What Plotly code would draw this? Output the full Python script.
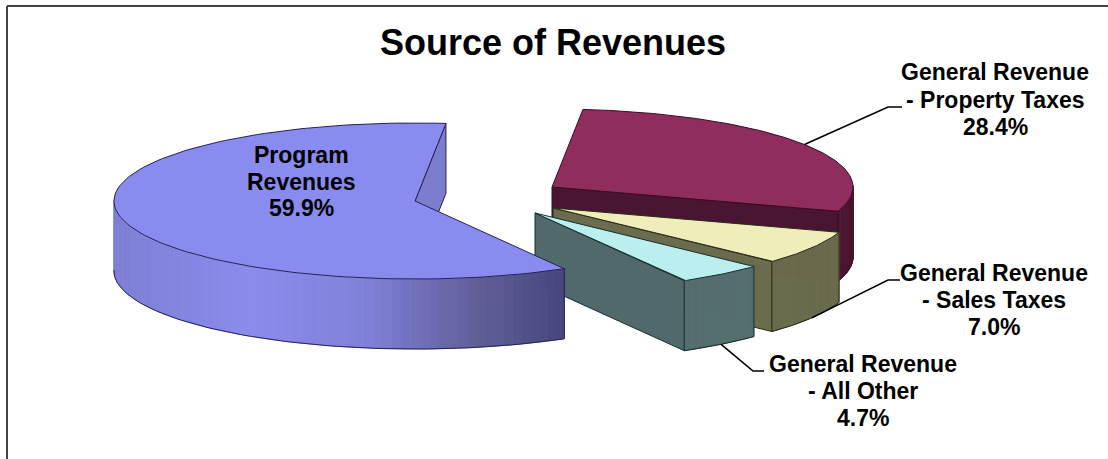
import numpy as np
import plotly.graph_objects as go

# Revenue shares in percent, clockwise from the top of the pie
categories = ["Program Revenues", "General Revenue - Property Taxes",
              "General Revenue - Sales Taxes", "General Revenue - All Other"]
revenue_shares = [59.9, 28.4, 7.0, 4.7]
label_lines = [["Program", "Revenues", "59.9%"],
               ["General Revenue", "- Property Taxes", "28.4%"],
               ["General Revenue", "- Sales Taxes", "7.0%"],
               ["General Revenue", "- All Other", "4.7%"]]
chart_title = "Source of Revenues"

WIDTH, HEIGHT = 1108, 459
FONT = "Liberation Sans, Arial, sans-serif"

# Pie projection: ellipse radii, wall depth and the angle of the first slice
RX, RY, DEPTH = 301.0, 78.0, 70.0
START_DEG = 84.1

# Pixel position of each slice's apex once exploded
apexes = [(415, 201), (552, 187), (553, 208), (535, 213)]

top_colors = ["#8a8bee", "#8e2d5e", "#eeeebb", "#bbeeee"]
edge_colors = ["#23235a", "#3a0c22", "#2c2c18", "#16302f"]
# Wall colours: straight cut face and curved rim
cut_colors = ["#7c7dcc", "#4a1530", "#6b6b4e", "#51696a"]
rim_stops = [
    [(0.0, "#7d7ed4"), (0.3, "#8a8bec"), (0.55, "#8081da"),
     (0.8, "#5f6099"), (1.0, "#46467c")],
    [(0.0, "#4a1530"), (1.0, "#4a1530")],
    [(0.0, "#6b6b4e"), (1.0, "#6b6b4e")],
    [(0.0, "#55706f"), (1.0, "#55706f")],
]
# Drawing order, back to front
draw_order = [1, 2, 3, 0]
# Elbow and end of each leader line
leaders = {1: [(888, 107), (902, 107)],
           2: [(888, 280), (900, 280)],
           3: [(753, 371), (764, 371)]}
# Centre x and the mid y of each line for every label block
label_anchor = [(301, [155, 182, 208]), (995, [72, 100, 127]),
                (994, [273, 300, 327]), (863, [364, 391, 418])]


def hex_mix(stops, t):
    """Piecewise-linear colour lookup along a list of (position, hex) stops."""
    for (p0, c0), (p1, c1) in zip(stops, stops[1:]):
        if t <= p1:
            f = 0 if p1 == p0 else (t - p0) / (p1 - p0)
            a = [int(c0[i:i + 2], 16) for i in (1, 3, 5)]
            b = [int(c1[i:i + 2], 16) for i in (1, 3, 5)]
            return "rgb(%d,%d,%d)" % tuple(round(u + (v - u) * f) for u, v in zip(a, b))
    return stops[-1][1]


def rim_xy(apex, deg, drop=0.0):
    rad = np.radians(deg)
    return apex[0] + RX * np.cos(rad), apex[1] - RY * np.sin(rad) + drop


# Slice spans from the shares: the first runs counter-clockwise from the
# start angle, the others clockwise
spans = [share * 3.6 for share in revenue_shares]
slice_angles = [(START_DEG, START_DEG + spans[0])]
angle = START_DEG
for span in spans[1:]:
    slice_angles.append((angle - span, angle))
    angle -= span

fig = go.Figure()


def polygon(xs, ys, fill, line=None, width=1.0):
    fig.add_trace(go.Scatter(
        x=list(xs), y=list(ys), mode="lines", fill="toself", fillcolor=fill,
        line=dict(color=line or fill, width=width), hoverinfo="skip", showlegend=False))


def stroke(xs, ys, color, width=1.0):
    fig.add_trace(go.Scatter(x=list(xs), y=list(ys), mode="lines",
                             line=dict(color=color, width=width),
                             hoverinfo="skip", showlegend=False))


for i in draw_order:
    apex = apexes[i]
    lo, hi = slice_angles[i]
    edge = edge_colors[i]
    # The cut face that looks toward the viewer
    ex, ey = rim_xy(apex, lo)
    polygon([apex[0], ex, ex, apex[0], apex[0]],
            [apex[1], ey, ey + DEPTH, apex[1] + DEPTH, apex[1]],
            cut_colors[i], edge)
    # Curved rim, split into strips so it can carry a horizontal gradient
    degs = np.linspace(lo, hi, 121)
    for d0, d1 in zip(degs[:-1], degs[1:]):
        if np.sin(np.radians((d0 + d1) / 2)) > 0.02:
            continue
        x0, y0 = rim_xy(apex, d0)
        x1, y1 = rim_xy(apex, d1)
        t = np.clip(((x0 + x1) / 2 - 114) / (566 - 114), 0, 1)
        color = hex_mix(rim_stops[i], t)
        polygon([x0, x1, x1, x0, x0], [y0, y1, y1 + DEPTH, y0 + DEPTH, y0], color, color, 0.8)
    # Rim bottom edge
    front = degs[np.sin(np.radians(degs)) <= 0.02]
    bx, by = rim_xy(apex, front, DEPTH)
    stroke(bx, by, edge)
    # Vertical edges at the front corners
    for deg in (lo, hi):
        if np.sin(np.radians(deg)) < 0:
            ex, ey = rim_xy(apex, deg)
            stroke([ex, ex], [ey, ey + DEPTH], edge)
    # Top face
    tx, ty = rim_xy(apex, degs)
    polygon(np.r_[apex[0], tx, apex[0]], np.r_[apex[1], ty, apex[1]], top_colors[i], edge)

# Leader lines start on the rim at each slice's mid angle
for i, tail in leaders.items():
    mid = sum(slice_angles[i]) / 2
    drop = DEPTH if np.sin(np.radians(mid)) < 0 else 0.0
    sx, sy = rim_xy(apexes[i], mid, drop)
    stroke([sx] + [p[0] for p in tail], [sy] + [p[1] for p in tail], "#000000", 1.6)

annotations = [dict(x=553, y=42, text="<b>%s</b>" % chart_title, showarrow=False,
                    font=dict(family=FONT, size=36, color="#000000"))]
for lines, (cx, ys) in zip(label_lines, label_anchor):
    for line, y in zip(lines, ys):
        annotations.append(dict(x=cx, y=y, text="<b>%s</b>" % line, showarrow=False,
                                font=dict(family=FONT, size=23, color="#000000")))
for a in annotations:
    a.update(xref="x", yref="y", xanchor="center", yanchor="middle")

# Frame: a rule along the top and one down the left side
frame = [dict(type="line", xref="x", yref="y", x0=7, y0=6, x1=WIDTH, y1=6,
              line=dict(color="#444444", width=2), layer="below"),
         dict(type="line", xref="x", yref="y", x0=7, y0=6, x1=7, y1=HEIGHT,
              line=dict(color="#444444", width=2), layer="below")]

fig.update_layout(
    width=WIDTH, height=HEIGHT, margin=dict(l=0, r=0, t=0, b=0),
    paper_bgcolor="#ffffff", plot_bgcolor="#ffffff", showlegend=False,
    annotations=annotations, shapes=frame,
    xaxis=dict(range=[0, WIDTH], visible=False, fixedrange=True),
    yaxis=dict(range=[HEIGHT, 0], visible=False, fixedrange=True),
)
fig.write_html("out.html", config=dict(displayModeBar=False))
